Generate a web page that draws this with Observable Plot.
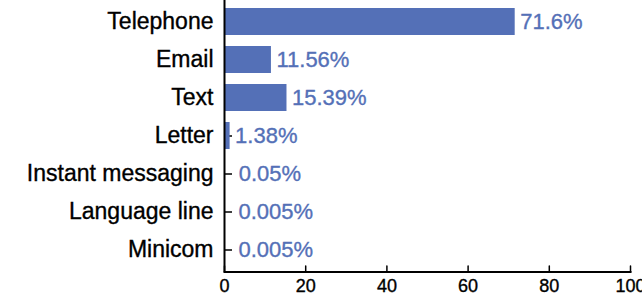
<!DOCTYPE html>
<html>
<head>
<meta charset="utf-8">
<script src="https://cdn.jsdelivr.net/npm/d3@7"></script>
<script src="https://cdn.jsdelivr.net/npm/@observablehq/plot@0.6"></script>
<style>
  html, body { margin: 0; padding: 0; background: white; }
  #chart svg { display: block; }
  #chart g[aria-label="y-axis tick label"], #chart g[aria-label="x-axis tick label"] { stroke: black; stroke-width: 0.35px; }
</style>
</head>
<body>
<div id="chart"></div>
<script>
const categories = ["Telephone", "Email", "Text", "Letter", "Instant messaging", "Language line", "Minicom"];
const values = [71.6, 11.56, 15.39, 1.38, 0.05, 0.005, 0.005];
const valueLabels = ["71.6%", "11.56%", "15.39%", "1.38%", "0.05%", "0.005%", "0.005%"];
const xTicks = [0, 20, 40, 60, 80, 100];

const data = categories.map((c, i) => ({category: c, value: values[i], label: valueLabels[i]}));
const blue = "#5470b7";
const tickUp = {draw(context, l) { context.moveTo(0, 0); context.lineTo(0, -l); }};

const chart = Plot.plot({
  width: 642,
  height: 294,
  marginLeft: 224,
  marginRight: 12,
  marginTop: 0,
  marginBottom: 22.5,
  style: {fontFamily: "'Liberation Sans', Arial, Helvetica, sans-serif", background: "white", color: "black"},
  x: {domain: [0, 100], ticks: xTicks},
  y: {domain: categories, paddingInner: 0.29, paddingOuter: 0.19},
  marks: [
    Plot.axisY({tickSize: 8, dx: 8, tickFormat: () => "", label: null, stroke: "black", strokeWidth: 1.5}),
    Plot.barX(data, {x: "value", y: "category", fill: blue}),
    Plot.text(data.filter(d => d.value >= 1), {x: "value", y: "category", text: "label", textAnchor: "start", dx: 5, fill: blue, stroke: blue, strokeWidth: 0.35, fontSize: 22}),
    Plot.text(data.filter(d => d.value < 1), {x: "value", y: "category", text: "label", textAnchor: "start", dx: 14, fill: blue, stroke: blue, strokeWidth: 0.35, fontSize: 22}),
    Plot.ruleX([0], {stroke: "black", strokeWidth: 2}),
    Plot.frame({anchor: "bottom", stroke: "black", strokeWidth: 2}),
    Plot.vector(xTicks, {x: d => d, frameAnchor: "bottom", anchor: "start", length: 6, shape: tickUp, stroke: "black", strokeWidth: 1.5}),
    Plot.axisX({ticks: xTicks, tickSize: 0, tickPadding: 7.5, fontSize: 18, label: null, tickFormat: d => d}),
    Plot.axisY({tickSize: 0, tickPadding: 11, fontSize: 23, label: null})
  ]
});
document.getElementById("chart").append(chart);
</script>
</body>
</html>
